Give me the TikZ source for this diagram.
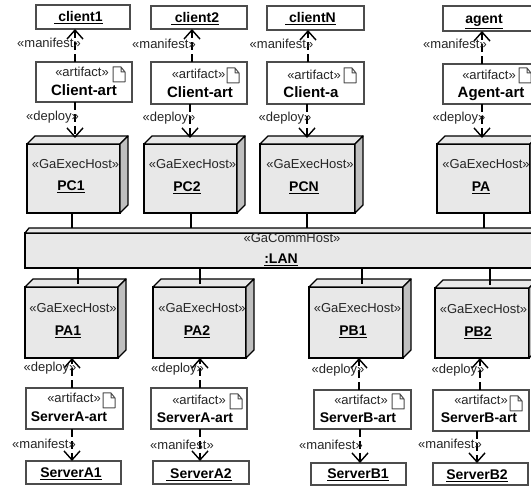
\documentclass[tikz,border=0pt]{standalone}
\usepackage{fontspec}
\setmainfont{Liberation Sans}
\usetikzlibrary{arrows.meta}

\newcommand{\widename}[1]{{\fontsize{15}{15}\selectfont #1}}

\tikzset{
  stereo/.style={inner sep=0pt,text=black!85,font=\fontsize{13}{13}\selectfont,text height=9.4pt,text depth=0pt},
  bold name/.style={inner sep=0pt,font=\fontsize{14}{14}\selectfont\bfseries,text height=10pt,text depth=0pt},
  plainbox/.style={draw=black!70,line width=1.3pt,fill=white,inner sep=0pt,outer sep=0pt},
  hostbox/.style={draw,line width=1.3pt,fill=black!9,inner sep=0pt,outer sep=0pt},
  hostface/.style={draw,line width=1.3pt,line join=round},
  docicon/.style={draw=black!70,line width=1pt,line join=round},
  linkline/.style={line width=1.5pt},
  depline/.style={line width=1.3pt,dash pattern=on 8pt off 4pt,-{Straight Barb[length=9pt,width=16pt,line width=1.4pt]}}
}

\begin{document}
\begin{tikzpicture}[x=1pt,y=-1pt]
  \clip (0,0) rectangle (531,486);

  %% The LAN, drawn first so that the links end on it
  \node[hostbox,minimum width=515,minimum height=35] (LAN) at (282.5,250.5) {};
  \draw[hostface,fill=black!9] (LAN.north west) -- ++(4,-5) -- ++(515,0) -- ++(0,5) -- cycle;
  \node[stereo] (LANs) at (292,238) {«GaCommHost»};
  \node[bold name] (LANn) at (281,259) {\underline{:LAN}};

  %% Building the execution hosts
  \foreach \n/\l/\t/\r/\b/\sx/\sy/\nx/\ny in {
    PC1/27/144/120/213/75.5/164/71/186,
    PC2/144/144/237/213/192.5/164/187/187,
    PCN/260/144/355/213/310/164/304/187,
    PA/437/144/530/213/486/164/481/187,
    PA1/25/287/118/358/73/308/68/331,
    PA2/153/287/246/358/202/308/197/331,
    PB1/309/287/403/358/357.5/308/353/331,
    PB2/435/288/529/358/483.5/309/478/332}
  {
    \node[hostbox,minimum width=\r-\l,minimum height=\b-\t] (\n) at ({(\l+\r)/2},{(\t+\b)/2}) {};
    \draw[hostface,fill=black!9] (\n.north west) -- ++(8,-8) -- ++(\r-\l,0) -- (\n.north east) -- cycle;
    \draw[hostface,fill=black!25] (\n.north east) -- ++(8,-8) -- ++(0,\b-\t) -- (\n.south east) -- cycle;
    \node[stereo] (\n s) at (\sx,\sy) {«GaExecHost»};
    \node[bold name] (\n n) at (\nx,\ny) {\underline{\n}};
  }

  %% Upper and lower links to the LAN
  \foreach \n/\x in {PC1/72,PC2/191,PCN/307,PA/484}
  {
    \coordinate (x\n) at (\x,0);
    \draw[linkline,shorten >=5pt] (\n.south -| x\n) -- (LAN.north -| x\n);
  }
  \foreach \n/\x in {PA1/78,PA2/200,PB1/362,PB2/490}
  {
    \coordinate (x\n) at (\x,0);
    \draw[linkline,shorten >=3pt] (LAN.south -| x\n) -- (\n.north -| x\n);
  }

  %% Component and server instances
  \foreach \n/\l/\t/\r/\b/\nx/\ny/\txt in {
    client1/36/5/130/29/78.5/17/{~client1},
    client2/151/6/247/29/195/18/{~client2},
    clientN/267/6/364/30/310.5/18/{~clientN},
    agent/443/6/540/31/484/19/{agent},
    ServerA1/26/461/121/484/71/473/{ServerA1},
    ServerA2/153/461/249/484/199/474/{~ServerA2},
    ServerB1/311/463/406/485/358/474/{ServerB1},
    ServerB2/433/463/528/485/477/475/{ServerB2}}
  {
    \node[plainbox,minimum width=\r-\l,minimum height=\b-\t] (\n) at ({(\l+\r)/2},{(\t+\b)/2}) {};
    \node[bold name] (\n n) at (\nx,\ny) {\underline{\txt}};
  }

  %% Artifacts with their document icon
  \foreach \n/\l/\t/\r/\b/\sx/\sy/\nx/\ny/\ix/\iy/\txt in {
    artC1/36/62/132/102/82/72/84/91/113/67/\widename{Client-art},
    artC2/151/62/247/104/198.5/74/200/93/227/68/\widename{Client-art},
    artCN/267/62/364/104/314/75/311/93/344/68/\widename{Client-a},
    artAg/443/64/540/104/489/75/491/93/519/68/\widename{Agent-art},
    artA1/26/388/123/429/74/398/69/417/103/393/ServerA-art,
    artA2/151/388/247/429/199/400/195/418/230/394/ServerA-art,
    artB1/314/390/411/429/361/400/358/418/392/394/ServerB-art,
    artB2/433/390/529/431/481/400/479/418/510/396/ServerB-art}
  {
    \node[plainbox,minimum width=\r-\l,minimum height=\b-\t] (\n) at ({(\l+\r)/2},{(\t+\b)/2}) {};
    \node[stereo] (\n s) at (\sx,\sy) {«artifact»};
    \node[bold name] (\n n) at (\nx,\ny) {\txt};
    \draw[docicon,shift={(\ix,\iy)}] (0,0) -- (8,0) -- (12,5) -- (12,15) -- (0,15) -- cycle
      (8,0) -- (8,5) -- (12,5);
  }

  %% Dependencies: artifact to what it manifests
  \foreach \a/\aa/\b/\ba/\x/\lx/\ly in {
    artC1/north/client1/south/75/49/43,
    artC2/north/client2/south/192/164/44,
    artCN/north/clientN/south/308/281.5/44,
    artAg/north/agent/south/482/455/44,
    artA1/south/ServerA1/north/72/44/444,
    artA2/south/ServerA2/north/200/182/445,
    artB1/south/ServerB1/north/360/331/445,
    artB2/south/ServerB2/north/477/450/444}
  {
    \coordinate (m\a) at (\x,0);
    \draw[depline] (\a.\aa -| m\a) -- (\b.\ba -| m\a);
    \node[stereo] (mlab\a) at (\lx,\ly) {«manifest»};
  }

  %% Dependencies: artifact to the host it is deployed on
  \foreach \a/\aa/\b/\ba/\x/\lx/\ly/\cut in {
    artC1/south/PC1/north/75/52.5/116/6,
    artC2/south/PC2/north/190/169/117/6,
    artCN/south/PCN/north/307/285/117/6,
    artAg/south/PA/north/482/459/117/6,
    artA1/north/PA1/south/72/50/367/0,
    artA2/north/PA2/south/200/177.5/368/0,
    artB1/north/PB1/south/359/338/369/0,
    artB2/north/PB2/south/480/458/369/0}
  {
    \coordinate (d\a) at (\x,0);
    \draw[depline,shorten >=\cut pt] (\a.\aa -| d\a) -- (\b.\ba -| d\a);
    \node[stereo] (dlab\a) at (\lx,\ly) {«deploy»};
  }
\end{tikzpicture}
\end{document}
